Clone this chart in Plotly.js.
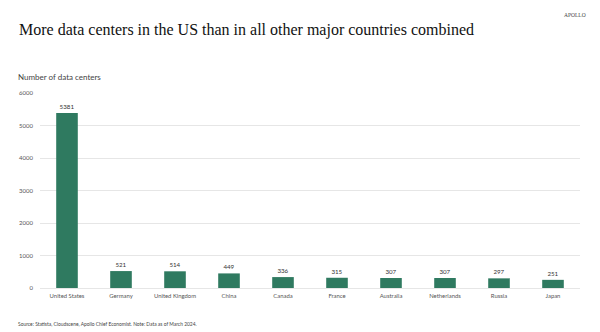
<!DOCTYPE html>
<html><head><meta charset="utf-8">
<script src="https://cdn.plot.ly/plotly-3.0.1.min.js"></script>
<style>html,body{margin:0;padding:0;background:#fff}#chart{width:600px;height:332px}</style>
</head><body><div id="chart"></div>
<script>
const countries = ["United States","Germany","United Kingdom","China","Canada","France","Australia","Netherlands","Russia","Japan"];
const dataCenters = [5381,521,514,449,336,315,307,307,297,251];
const yTicks = [0,1000,2000,3000,4000,5000,6000];

const SANS = "Lato, Open Sans, sans-serif";
const trace = {
  type: "bar",
  x: countries,
  y: dataCenters,
  marker: {color: "#2f7a60"},
  text: dataCenters.map(String),
  textposition: "outside",
  textfont: {family: SANS, size: 6.2, color: "#333"},
  cliponaxis: false,
  hoverinfo: "none"
};

const PW = 540, PH = 195, ML = 40, MT = 93;
const px = v => (v - ML) / PW;
const py = v => 1 + (MT - v) / PH;

const layout = {
  width: 600, height: 332,
  margin: {l: 40, r: 20, t: 93, b: 44},
  paper_bgcolor: "#fff", plot_bgcolor: "#fff",
  bargap: 0.6,
  showlegend: false,
  xaxis: {
    type: "category",
    tickfont: {family: SANS, size: 5.9, color: "#555"},
    ticklabelstandoff: 3,
    showgrid: false, showline: false, ticks: "", zeroline: false
  },
  yaxis: {
    range: [0, 6000],
    tickvals: yTicks,
    ticktext: yTicks.map(String),
    tickfont: {family: SANS, size: 6, color: "#555"},
    ticklabelstandoff: 6,
    gridcolor: "#e6e6e6", gridwidth: 1,
    zeroline: true, zerolinecolor: "#e6e6e6", zerolinewidth: 1,
    ticks: "", ticklen: 0, showline: false
  },
  annotations: [
    {text: "More data centers in the US than in all other major countries combined", xref: "paper", yref: "paper",
     x: px(17), y: py(30), xanchor: "left", yanchor: "middle", showarrow: false,
     font: {family: "Liberation Serif, serif", size: 16, color: "#111"}},
    {text: "APOLLO", xref: "paper", yref: "paper", x: px(588), y: py(15),
     xanchor: "right", yanchor: "middle", showarrow: false,
     font: {family: "Liberation Serif, serif", size: 5.5, color: "#444"}},
    {text: "Number of data centers", xref: "paper", yref: "paper", x: px(16), y: py(77),
     xanchor: "left", yanchor: "middle", showarrow: false,
     font: {family: SANS, size: 8, color: "#444"}},
    {text: "Source: Statista, Cloudscene, Apollo Chief Economist. Note: Data as of March 2024.", xref: "paper", yref: "paper",
     x: px(16), y: py(324), xanchor: "left", yanchor: "middle", showarrow: false,
     font: {family: SANS, size: 4.9, color: "#444"}}
  ]
};

Plotly.newPlot("chart", [trace], layout, {displayModeBar: false, staticPlot: true});
</script></body></html>
